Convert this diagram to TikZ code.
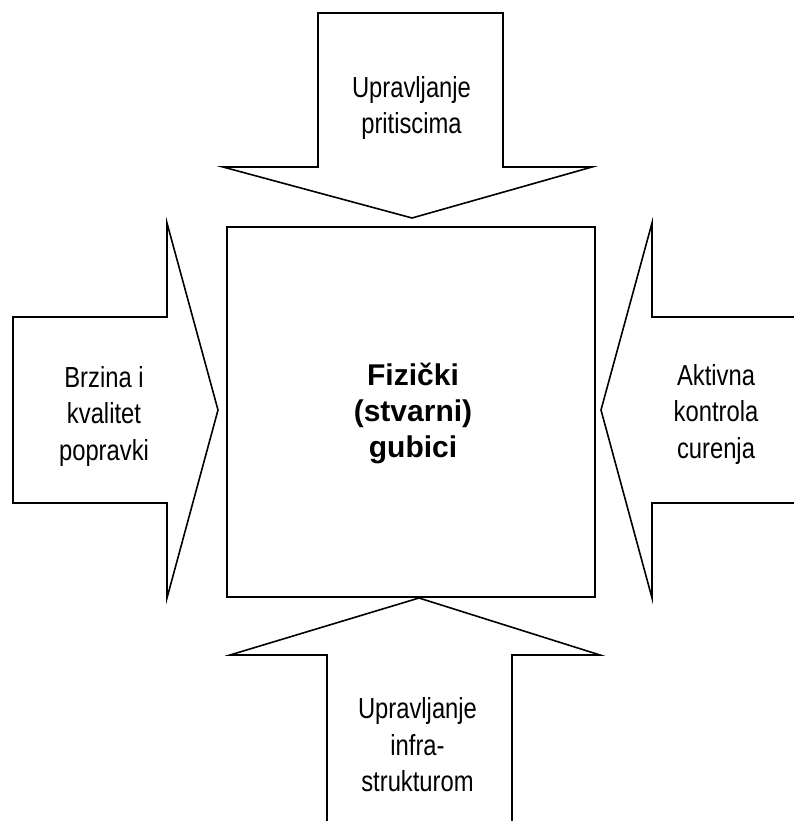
\documentclass[tikz,border=0pt]{standalone}
\usepackage{fontspec}
\setmainfont{Liberation Sans}[FakeStretch=0.82]
\newfontfamily\widefont{Liberation Sans}
\tikzset{
  blockarrow/.style={draw, line width=1.6pt, line join=miter, fill=white},
  arrowtext/.style={align=center, inner sep=0pt, font=\fontsize{29}{36.5}\selectfont},
  losstext/.style={align=center, inner sep=0pt, font=\widefont\fontsize{30}{36}\selectfont\bfseries}
}
\begin{document}
\begin{tikzpicture}[x=1pt,y=-1pt]
\clip (0,0) rectangle (794,821);
\fill[white] (0,0) rectangle (794,821);

% central box
\node[draw, line width=1.6pt, minimum width=368pt, minimum height=370pt, inner sep=0pt] (losses) at (411,412) {};
\node[losstext] (lossestext) at (413,413) {Fizički\\(stvarni)\\gubici};

% top arrow
\draw[blockarrow] (318,13) -- (503,13) -- (503,167) -- (592,167) -- (412,218) -- (223,167) -- (318,167) -- cycle;
\node[arrowtext] (pressure) at (411.5,108) {Upravljanje\\pritiscima};

% left arrow
\draw[blockarrow] (13,317) -- (167,317) -- (167,223) -- (218,410) -- (167,598) -- (167,503) -- (13,503) -- cycle;
\node[arrowtext] (repairs) at (104,416) {Brzina i\\kvalitet\\popravki};

% right arrow
\draw[blockarrow] (805,317) -- (652,317) -- (652,223) -- (601,410) -- (652,598) -- (652,503) -- (805,503);
\node[arrowtext] (leakage) at (716,414) {Aktivna\\kontrola\\curenja};

% bottom arrow
\draw[blockarrow] (327,830) -- (327,655) -- (230,655) -- (419,598) -- (600,655) -- (512,655) -- (512,830);
\node[arrowtext] (infra) at (417.5,745) {Upravljanje\\infra-\\strukturom};
\end{tikzpicture}
\end{document}
